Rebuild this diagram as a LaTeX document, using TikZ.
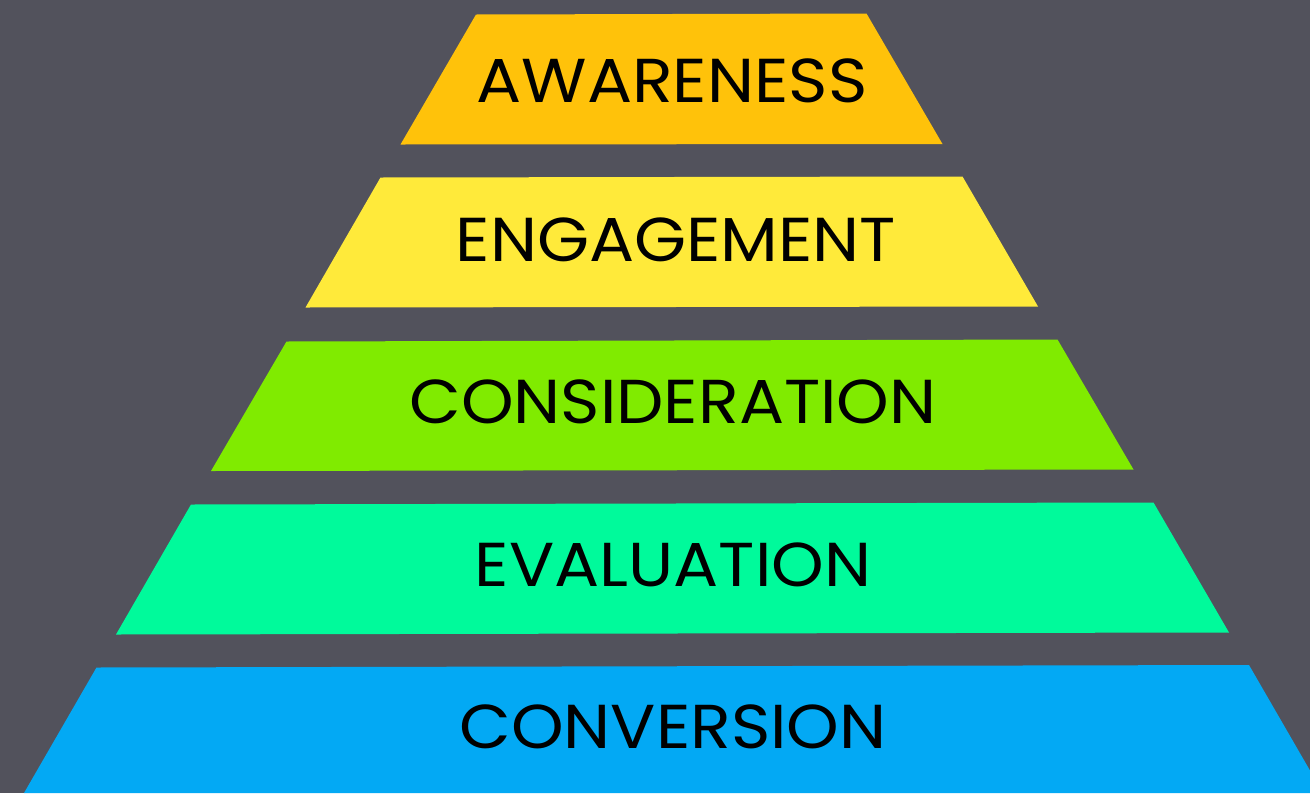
\documentclass[tikz,border=0pt]{standalone}
\usepackage{fontspec}
\setmainfont{Poppins}
\definecolor{bg}{HTML}{52525C}
\definecolor{cA}{HTML}{FFC20A}
\definecolor{cB}{HTML}{FFEA3A}
\definecolor{cC}{HTML}{80EB00}
\definecolor{cD}{HTML}{00FA9B}
\definecolor{cE}{HTML}{03A9F4}
\tikzset{
  lbl/.style={anchor=base, inner sep=0pt, text=black, xscale=1.08, font=\fontsize{62}{62}\selectfont},
}
\begin{document}
\begin{tikzpicture}[x=1pt,y=-1pt]
\useasboundingbox (0,0) rectangle (1310,793);
\fill[bg] (0,0) rectangle (1310,793);
\begin{scope}
\clip (0,0) rectangle (1310,793);
\fill[cA] (476,14.5) -- (866.5,13.5) -- (942.5,144) -- (400.5,144.5) -- cycle;
\fill[cB] (380.5,177.5) -- (962.5,176.5) -- (1038,306.5) -- (305.5,307.5) -- cycle;
\fill[cC] (286.5,341.5) -- (1057.5,339.5) -- (1133.5,469.5) -- (211,471) -- cycle;
\fill[cD] (191,504.5) -- (1153.5,502.5) -- (1229,632.5) -- (116,634.5) -- cycle;
\fill[cE] (96.5,667.5) -- (1249,665) -- (1323,793) -- (24,793) -- cycle;
\end{scope}
\node[lbl] (aw) at (672,102) {AWARENESS};
\node[lbl] (en) at (676,261) {ENGAGEMENT};
\node[lbl] (co) at (673,423) {CONSIDERATION};
\node[lbl] (ev) at (673,586) {EVALUATION};
\node[lbl] (cv) at (673,748) {CONVERSION};
\end{tikzpicture}
\end{document}
